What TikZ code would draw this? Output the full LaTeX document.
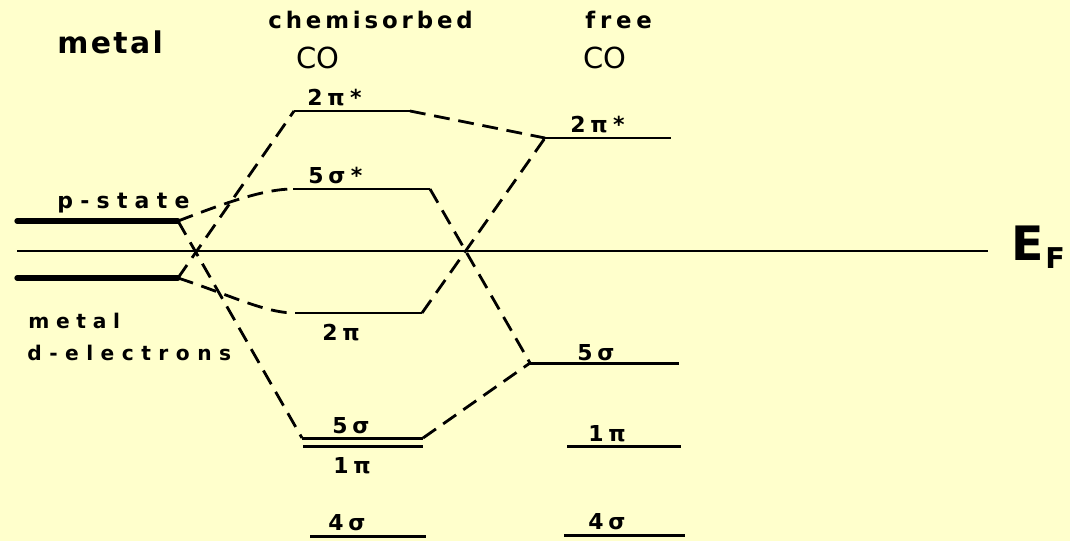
\documentclass[tikz,border=0pt]{standalone}
\usepackage{fontspec}
\newfontfamily\pf{DejaVu Sans}
\newcommand\pfs[2]{\pf\bfseries\fontsize{#1}{#1}\selectfont\addfontfeature{LetterSpace=#2}}
\newcommand\pfr[2]{\pf\fontsize{#1}{#1}\selectfont\addfontfeature{LetterSpace=#2}}
\newcommand\stx{\hspace{3pt}*}
\definecolor{bg}{RGB}{255,255,204}
\begin{document}
\begin{tikzpicture}[x=0.02cm,y=-0.02cm,
  level/.style={line width=1.7pt},
  mlevel/.style={line width=3pt,line cap=round},
  efline/.style={line width=1.6pt},
  conn/.style={line width=1.6pt,dash pattern=on 9pt off 5pt},
  txt/.style={anchor=base west,inner sep=0pt},
  lvl/.style={txt,font={\pfs{12.5}{22}}}]
\fill[bg] (0,0) rectangle (1070,541);
\useasboundingbox (0,0) rectangle (1070,541);
% coordinates of level ends
\coordinate (pL) at (17,221);   \coordinate (pR) at (178,221);
\coordinate (efL) at (17,251);  \coordinate (efR) at (988,251);
\coordinate (dL) at (17,278);   \coordinate (dR) at (178,278);
\coordinate (c2psL) at (294,111); \coordinate (c2psR) at (410,111);
\coordinate (c5ssL) at (293,189); \coordinate (c5ssR) at (430,189);
\coordinate (c2pL) at (295,313);  \coordinate (c2pR) at (422,313);
\coordinate (c5sL) at (302,438);  \coordinate (c5sR) at (423,438);
\coordinate (c1pL) at (303,446);  \coordinate (c1pR) at (423,446);
\coordinate (c4sL) at (310,536);  \coordinate (c4sR) at (426,536);
\coordinate (f2psL) at (545,138); \coordinate (f2psR) at (671,138);
\coordinate (f5sL) at (530,363);  \coordinate (f5sR) at (679,363);
\coordinate (f1pL) at (567,446);  \coordinate (f1pR) at (681,446);
\coordinate (f4sL) at (564,535);  \coordinate (f4sR) at (685,535);
% metal levels
\draw[mlevel] (pL) -- (pR);
\draw[mlevel] (dL) -- (dR);
\draw[efline] (efL) -- (efR);
% CO levels
\foreach \a in {c2ps,c5ss,c2p,c5s,c1p,c4s,f2ps,f5s,f1p,f4s}
  \draw[level] (\a L) -- (\a R);
% connectors
\draw[conn] (pR) .. controls (220,205) and (262,189) .. (c5ssL);
\draw[conn] (pR) -- (c5sL);
\draw[conn] (dR) -- (c2psL);
\draw[conn] (dR) .. controls (230,295) and (265,313) .. (c2pL);
\draw[conn] (c2psR) -- (f2psL);
\draw[conn] (c5ssR) -- (f5sL);
\draw[conn] (c2pR) -- (f2psL);
\draw[conn] (c5sR) -- (f5sL);
% headings
\node[txt,font={\pfs{17}{8}}] (tmetal) at (57,53) {metal};
\node[txt,font={\pfs{13}{17}}] (tchem) at (268,29) {chemisorbed};
\node[txt,font={\pfs{13}{21}}] (tfree) at (585,29) {free};
\node[txt,font={\pfr{16.5}{0}}] (tco1) at (296,68) {CO};
\node[txt,font={\pfr{16.5}{0}}] (tco2) at (583,68) {CO};
\node[txt,font={\pfs{12.5}{33}}] (tp) at (57,208) {p-state};
\node[txt,font={\pfs{11.5}{33}}] (tmetal2) at (28,328) {metal};
\node[txt,font={\pfs{11.5}{37}}] (td) at (27,360) {d-electrons};
% level labels
\node[lvl] (l1) at (307,105) {2π\stx};
\node[lvl] (l2) at (570,132) {2π\stx};
\node[lvl] (l3) at (308,183) {5σ\stx};
\node[lvl] (l4) at (322,340) {2π};
\node[lvl] (l5) at (332,433) {5σ};
\node[lvl] (l6) at (333,473) {1π};
\node[lvl] (l7) at (328,530) {4σ};
\node[lvl] (l8) at (577,360) {5σ};
\node[lvl] (l9) at (588,441) {1π};
\node[lvl] (l10) at (588,529) {4σ};
% Fermi level
\node[txt,font={\pfs{27}{0}}] (tE) at (1011,260) {E};
\node[txt,font={\pfs{16.3}{0}}] (tF) at (1045,268) {F};
\end{tikzpicture}
\end{document}
